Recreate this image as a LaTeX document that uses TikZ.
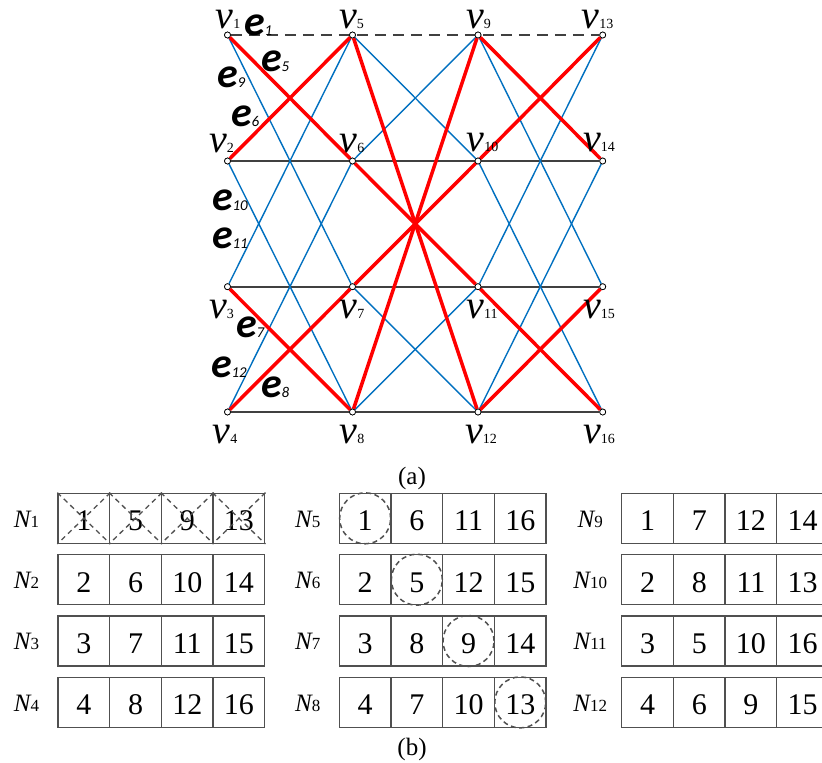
\documentclass[tikz,border=0pt]{standalone}
\usepackage{fontspec}
\setmainfont{Liberation Serif}
\newfontfamily\efont{Carlito}
\definecolor{eblue}{HTML}{0070C0}
\definecolor{ered}{HTML}{FF0000}
\definecolor{egray}{HTML}{404040}
\definecolor{bgray}{HTML}{505050}
\newcommand\vlab[1]{{\fontsize{40}{40}\selectfont\itshape v}{\fontsize{14}{14}\selectfont #1}}
\newcommand\elab[1]{{\efont\bfseries\itshape\fontsize{42}{42}\selectfont e}{\efont\itshape\fontsize{15}{15}\selectfont #1}}
\newcommand\nlab[1]{{\fontsize{25}{25}\selectfont\itshape N}{\fontsize{17}{17}\selectfont #1}}
\begin{document}
\begin{tikzpicture}[x=1pt,y=-1pt,
  vtx/.style={circle,draw=black,fill=white,inner sep=0pt,minimum size=6pt,line width=0.7pt},
  lab/.style={inner sep=0pt,outer sep=0pt},
  blueedge/.style={draw=eblue,line width=1.4pt},
  rededge/.style={draw=ered,line width=3.5pt},
  grayedge/.style={draw=egray,line width=1.6pt},
  dashedge/.style={draw=egray,line width=2pt,dash pattern=on 11pt off 7pt},
  cell/.style={rectangle,draw=bgray,line width=1.3pt,minimum width=51.7pt,minimum height=50pt,inner sep=0pt,text height=25pt,text depth=0pt,font=\fontsize{30}{30}\selectfont},
  dcross/.style={draw=bgray,line width=1.3pt,dash pattern=on 5pt off 4pt},
  dcirc/.style={draw=bgray,line width=1.5pt,dash pattern=on 5pt off 3.5pt},
  captxt/.style={inner sep=0pt,font=\fontsize{25}{25}\selectfont}
]
\clip (0,0) rectangle (822,763);
\fill[white] (0,0) rectangle (822,763);

% vertices
\node[vtx] (v1) at (227.5,35) {};
\node[vtx] (v2) at (227.5,161) {};
\node[vtx] (v3) at (227.5,286.7) {};
\node[vtx] (v4) at (227.5,412) {};
\node[vtx] (v5) at (352.5,35) {};
\node[vtx] (v6) at (352.5,161) {};
\node[vtx] (v7) at (352.5,286.7) {};
\node[vtx] (v8) at (352.5,412) {};
\node[vtx] (v9) at (478,35) {};
\node[vtx] (v10) at (478,161) {};
\node[vtx] (v11) at (478,286.7) {};
\node[vtx] (v12) at (478,412) {};
\node[vtx] (v13) at (602.7,35) {};
\node[vtx] (v14) at (602.7,161) {};
\node[vtx] (v15) at (602.7,286.7) {};
\node[vtx] (v16) at (602.7,412) {};

% edges
\draw[dashedge] (v1) -- (v13);
\draw[grayedge] (v2) -- (v14);
\draw[grayedge] (v3) -- (v15);
\draw[grayedge] (v4) -- (v16);
\draw[blueedge] (v1) -- (v7);
\draw[blueedge] (v5) -- (v3);
\draw[blueedge] (v2) -- (v8);
\draw[blueedge] (v6) -- (v4);
\draw[blueedge] (v5) -- (v10);
\draw[blueedge] (v6) -- (v9);
\draw[blueedge] (v7) -- (v12);
\draw[blueedge] (v8) -- (v11);
\draw[blueedge] (v9) -- (v15);
\draw[blueedge] (v13) -- (v11);
\draw[blueedge] (v10) -- (v16);
\draw[blueedge] (v14) -- (v12);
\draw[rededge] (v1) -- (v6);
\draw[rededge] (v6) -- (v11);
\draw[rededge] (v11) -- (v16);
\draw[rededge] (v13) -- (v10);
\draw[rededge] (v10) -- (v7);
\draw[rededge] (v7) -- (v4);
\draw[rededge] (v2) -- (v5);
\draw[rededge] (v3) -- (v8);
\draw[rededge] (v9) -- (v14);
\draw[rededge] (v12) -- (v15);
\draw[rededge] (v5) -- (v12);
\draw[rededge] (v9) -- (v8);
% redraw vertices on top
\foreach \n in {1,...,16} {\node[vtx] at (v\n) {};}

% vertex labels
\node[lab,anchor=base] (lv1) at (228,28) {\vlab{1}};
\node[lab,anchor=base] (lv5) at (351.5,28) {\vlab{5}};
\node[lab,anchor=base] (lv9) at (478.5,28) {\vlab{9}};
\node[lab,anchor=base] (lv13) at (597.5,28) {\vlab{13}};
\node[lab,anchor=base] (lv2) at (221.5,152) {\vlab{2}};
\node[lab,anchor=base] (lv6) at (352,152) {\vlab{6}};
\node[lab,anchor=base] (lv10) at (482.5,151) {\vlab{10}};
\node[lab,anchor=base] (lv14) at (599,151) {\vlab{14}};
\node[lab,anchor=base] (lv3) at (221.5,318) {\vlab{3}};
\node[lab,anchor=base] (lv7) at (352,318) {\vlab{7}};
\node[lab,anchor=base] (lv11) at (482,318) {\vlab{11}};
\node[lab,anchor=base] (lv15) at (599,318) {\vlab{15}};
\node[lab,anchor=base] (lv4) at (225,443) {\vlab{4}};
\node[lab,anchor=base] (lv8) at (352,443) {\vlab{8}};
\node[lab,anchor=base] (lv12) at (481,443) {\vlab{12}};
\node[lab,anchor=base] (lv16) at (599,443) {\vlab{16}};

% edge labels
\node[lab,anchor=base west] (le1) at (244,35) {\elab{1}};
\node[lab,anchor=base west] (le5) at (261,71) {\elab{5}};
\node[lab,anchor=base west] (le9) at (217,87) {\elab{9}};
\node[lab,anchor=base west] (le6) at (231,126) {\elab{6}};
\node[lab,anchor=base west] (le10) at (212,210) {\elab{10}};
\node[lab,anchor=base west] (le11) at (212,248) {\elab{11}};
\node[lab,anchor=base west] (le7) at (236,337) {\elab{7}};
\node[lab,anchor=base west] (le12) at (211,377) {\elab{12}};
\node[lab,anchor=base west] (le8) at (261,397) {\elab{8}};

\node[captxt,anchor=base] (capa) at (412,484) {(a)};
\node[captxt,anchor=base] (capb) at (412,755) {(b)};

% tables
\foreach \gx/\ga/\gb/\gc/\gd/\ra/\rb/\rc/\rd/\nn in {
  58/1/5/9/13/2/6/10/14/1, 58/3/7/11/15/4/8/12/16/3,
  339.3/1/6/11/16/2/5/12/15/5, 339.3/3/8/9/14/4/7/10/13/7,
  621.7/1/7/12/14/2/8/11/13/9, 621.7/3/5/10/16/4/6/9/15/11}{
  \pgfmathsetmacro\rowone{(\nn==1||\nn==5||\nn==9) ? 518.3 : 641}
  \pgfmathsetmacro\rowtwo{\rowone+61.4}
  \pgfmathtruncatemacro\nb{\nn+1}
  \node[lab,anchor=base] (N\nn) at (\gx-31.5,\rowone+8.7) {\nlab{\nn}};
  \node[lab,anchor=base] (N\nb) at (\gx-31.5,\rowtwo+8.7) {\nlab{\nb}};
  \node[cell] (c\nn-1) at (\gx+25.85,\rowone) {\ga};
  \node[cell] (c\nn-2) at (\gx+77.55,\rowone) {\gb};
  \node[cell] (c\nn-3) at (\gx+129.25,\rowone) {\gc};
  \node[cell] (c\nn-4) at (\gx+180.95,\rowone) {\gd};
  \node[cell] (c\nb-1) at (\gx+25.85,\rowtwo) {\ra};
  \node[cell] (c\nb-2) at (\gx+77.55,\rowtwo) {\rb};
  \node[cell] (c\nb-3) at (\gx+129.25,\rowtwo) {\rc};
  \node[cell] (c\nb-4) at (\gx+180.95,\rowtwo) {\rd};
}
\foreach \k in {1,2,3,4} {
  \draw[dcross] (c1-\k.north west) -- (c1-\k.south east);
  \draw[dcross] (c1-\k.north east) -- (c1-\k.south west);
}
\draw[dcirc] (c5-1.center) circle (25.5pt);
\draw[dcirc] (c6-2.center) circle (25.5pt);
\draw[dcirc] (c7-3.center) circle (25.5pt);
\draw[dcirc] (c8-4.center) circle (25.5pt);
\end{tikzpicture}
\end{document}
